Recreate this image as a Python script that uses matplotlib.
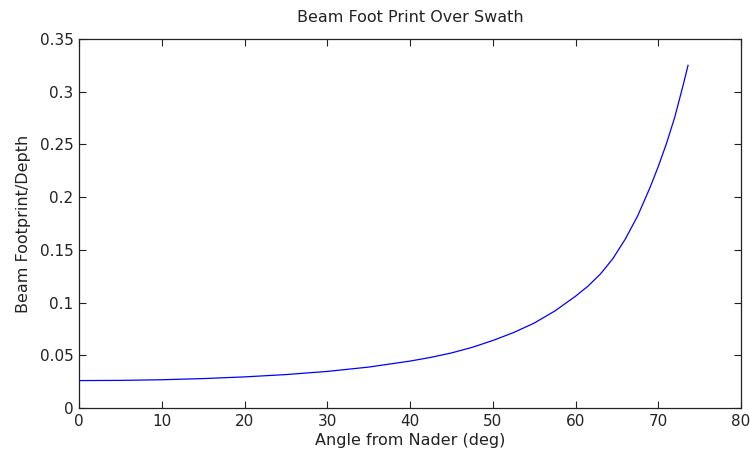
import matplotlib
matplotlib.use("Agg")
import matplotlib.pyplot as plt

# Beam footprint relative to depth as a function of angle from nadir
angle_deg = [0, 5, 10, 15, 20, 25, 30, 35, 40, 42.5, 45, 47.5, 50, 52.5, 55,
             57.5, 60, 61.5, 63, 64.5, 66, 67.5, 69, 70, 71, 72, 73, 73.6]
footprint_ratio = [0.0260, 0.0262, 0.0268, 0.0279, 0.0295, 0.0317, 0.0347, 0.0388,
                   0.0445, 0.0480, 0.0522, 0.0575, 0.0640, 0.0715, 0.0805, 0.0920,
                   0.1060, 0.1155, 0.1270, 0.1415, 0.1600, 0.1820, 0.2090, 0.2290,
                   0.2510, 0.2760, 0.3060, 0.3250]

x_ticks = [0, 10, 20, 30, 40, 50, 60, 70, 80]
y_ticks = [0, 0.05, 0.1, 0.15, 0.2, 0.25, 0.3, 0.35]
y_tick_labels = ["0", "0.05", "0.1", "0.15", "0.2", "0.25", "0.3", "0.35"]

plt.rcParams["font.family"] = ["DejaVu Sans"]

fig = plt.figure(figsize=(7.5, 4.59), dpi=100)
ax = fig.add_axes([79 / 750, 1 - 408 / 459, 662 / 750, 369 / 459])

ax.plot(angle_deg, footprint_ratio, color="#0000ff", linewidth=0.9)

ax.set_xlim(0, 80)
ax.set_ylim(0, 0.35)
ax.set_xticks(x_ticks)
ax.set_yticks(y_ticks)
ax.set_yticklabels(y_tick_labels)
ax.tick_params(direction="in", length=5, width=0.8, top=True, right=True,
               labelsize=11, pad=4, colors="#222222")
for s in ax.spines.values():
    s.set_linewidth(0.9)
    s.set_color("#222222")

ax.set_title("Beam Foot Print Over Swath", fontsize=11.5, pad=12, color="#222222")
ax.set_xlabel("Angle from Nader (deg)", fontsize=11.5, labelpad=3, color="#222222")
ax.set_ylabel("Beam Footprint/Depth", fontsize=11.5, labelpad=6, color="#222222")

fig.savefig("out.png", dpi=100)
